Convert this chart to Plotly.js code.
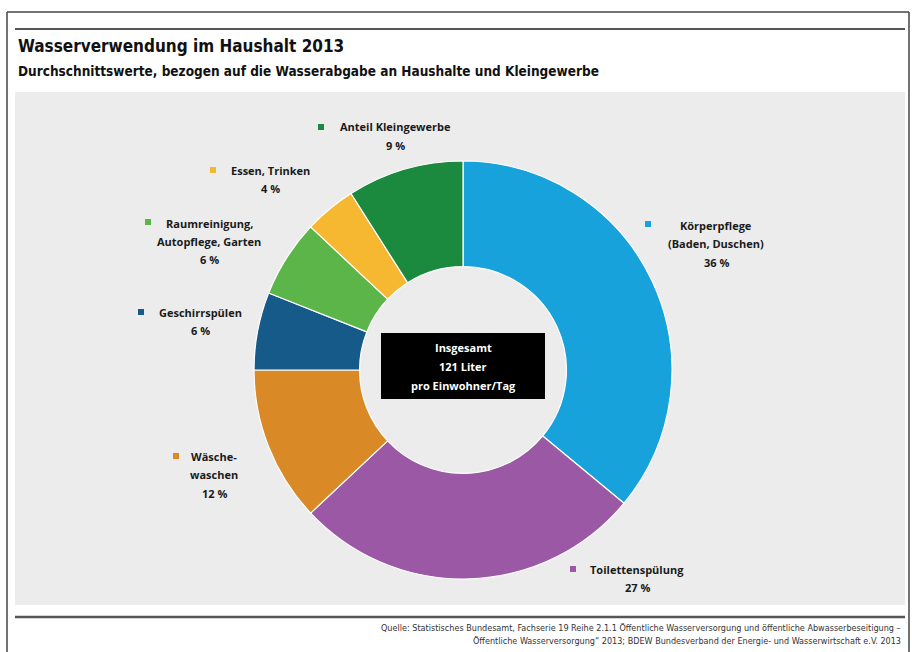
<!DOCTYPE html>
<html>
<head>
<meta charset="utf-8">
<script src="https://cdn.plot.ly/plotly-3.0.1.min.js"></script>
<style>html,body{margin:0;padding:0;background:#fff;}#chart{width:912px;height:652px;}</style>
</head>
<body>
<div id="chart"></div>
<script>
// ---- data ----
const categories = ['Körperpflege (Baden, Duschen)', 'Toilettenspülung', 'Wäschewaschen', 'Geschirrspülen', 'Raumreinigung, Autopflege, Garten', 'Essen, Trinken', 'Anteil Kleingewerbe'];
const shares = [36, 27, 12, 6, 6, 4, 9];
const labelLines = [
  ['Körperpflege', '(Baden, Duschen)'],
  ['Toilettenspülung'],
  ['Wäsche-', 'waschen'],
  ['Geschirrspülen'],
  ['Raumreinigung,', 'Autopflege, Garten'],
  ['Essen, Trinken'],
  ['Anteil Kleingewerbe']
];
const titleText = 'Wasserverwendung im Haushalt 2013';
const subtitleText = 'Durchschnittswerte, bezogen auf die Wasserabgabe an Haushalte und Kleingewerbe';
const centerLines = ['Insgesamt', '121 Liter', 'pro Einwohner/Tag'];
const sourceLines = [
  'Quelle: Statistisches Bundesamt, Fachserie 19 Reihe 2.1.1 Öffentliche Wasserversorgung und öffentliche Abwasserbeseitigung –',
  'Öffentliche Wasserversorgung“ 2013; BDEW Bundesverband der Energie- und Wasserwirtschaft e.V. 2013'
];

// ---- styles / layout positions (pixels) ----
const colors = ['#17a2dc', '#9a58a5', '#d98a27', '#165a8a', '#5cb548', '#f6b830', '#1b8a3f'];
const W = 912, H = 652;
const X = px => px / W;
const Y = py => 1 - py / H;
const cx = 463, cy = 370, R = 209;
// text block centre x, first-line y ; marker x,y
const labelPos = [[716, 225], [637, 569], [214, 456], [200, 312], [209, 223], [270, 170], [395, 127]];
const markerPos = [[648, 224], [573, 569], [176, 456], [141, 312], [148, 222], [213, 170], [321, 127]];
const lineGap = 18.5;
const labelFont = {family: 'Open Sans, DejaVu Sans, sans-serif', size: 11, color: '#1a1a1a', weight: 700};

const annotations = [];
const shapes = [];

// background panel & rules
shapes.push({type: 'rect', xref: 'paper', yref: 'paper', x0: X(15), x1: X(905), y0: Y(605), y1: Y(92), fillcolor: '#ececec', line: {width: 0}, layer: 'below'});
shapes.push({type: 'line', xref: 'paper', yref: 'paper', x0: X(15), x1: X(905), y0: Y(29), y1: Y(29), line: {color: '#555', width: 2}});
shapes.push({type: 'line', xref: 'paper', yref: 'paper', x0: X(15), x1: X(905), y0: Y(617), y1: Y(617), line: {color: '#555', width: 2.5}});
// outer frame
shapes.push({type: 'line', xref: 'paper', yref: 'paper', x0: X(7), x1: X(909), y0: Y(12), y1: Y(12), line: {color: '#444', width: 1.5}});
shapes.push({type: 'line', xref: 'paper', yref: 'paper', x0: X(7), x1: X(7), y0: Y(12), y1: Y(652), line: {color: '#444', width: 1.5}});
shapes.push({type: 'line', xref: 'paper', yref: 'paper', x0: X(909), x1: X(909), y0: Y(12), y1: Y(652), line: {color: '#444', width: 1.5}});

// title & subtitle
annotations.push({xref: 'paper', yref: 'paper', x: X(16), y: Y(46), xanchor: 'left', yanchor: 'middle', showarrow: false,
  text: titleText, font: {family: 'DejaVu Sans Condensed, sans-serif', size: 17, color: '#111', weight: 700}});
annotations.push({xref: 'paper', yref: 'paper', x: X(16), y: Y(71), xanchor: 'left', yanchor: 'middle', showarrow: false,
  text: subtitleText, font: {family: 'DejaVu Sans Condensed, sans-serif', size: 13.5, color: '#111', weight: 700}});

// slice labels
categories.forEach((c, i) => {
  const lines = labelLines[i].concat([shares[i] + ' %']);
  lines.forEach((ln, k) => {
    annotations.push({xref: 'paper', yref: 'paper', x: X(labelPos[i][0]), y: Y(labelPos[i][1] + k * lineGap),
      xanchor: 'center', yanchor: 'middle', showarrow: false, text: ln, font: labelFont});
  });
  const m = markerPos[i];
  shapes.push({type: 'rect', xref: 'paper', yref: 'paper', x0: X(m[0] - 3), x1: X(m[0] + 3), y0: Y(m[1] + 3), y1: Y(m[1] - 3),
    fillcolor: colors[i], line: {width: 0}});
});

// centre box
shapes.push({type: 'rect', xref: 'paper', yref: 'paper', x0: X(381), x1: X(545), y0: Y(399), y1: Y(333), fillcolor: '#000', line: {width: 0}});
centerLines.forEach((ln, k) => {
  annotations.push({xref: 'paper', yref: 'paper', x: X(463), y: Y(347 + k * 19), xanchor: 'center', yanchor: 'middle', showarrow: false,
    text: ln, font: {family: 'Open Sans, DejaVu Sans, sans-serif', size: 11, color: '#fff', weight: 700}});
});

// source
sourceLines.forEach((ln, k) => {
  annotations.push({xref: 'paper', yref: 'paper', x: X(903), y: Y(628 + k * 13), xanchor: 'right', yanchor: 'middle', showarrow: false,
    text: ln, font: {family: 'DejaVu Sans Condensed, sans-serif', size: 9, color: '#333'}});
});

const trace = {
  type: 'pie',
  labels: categories,
  values: shares,
  sort: false,
  direction: 'clockwise',
  rotation: 0,
  hole: 0.495,
  textinfo: 'none',
  hoverinfo: 'skip',
  marker: {colors: colors, line: {color: '#ffffff', width: 1.2}},
  domain: {x: [X(cx - R), X(cx + R)], y: [Y(cy + R), Y(cy - R)]},
  showlegend: false
};

const layout = {
  width: W, height: H,
  margin: {l: 0, r: 0, t: 0, b: 0},
  paper_bgcolor: '#ffffff',
  showlegend: false,
  shapes: shapes,
  annotations: annotations
};

Plotly.newPlot('chart', [trace], layout, {displayModeBar: false, staticPlot: true});
</script>
</body>
</html>
